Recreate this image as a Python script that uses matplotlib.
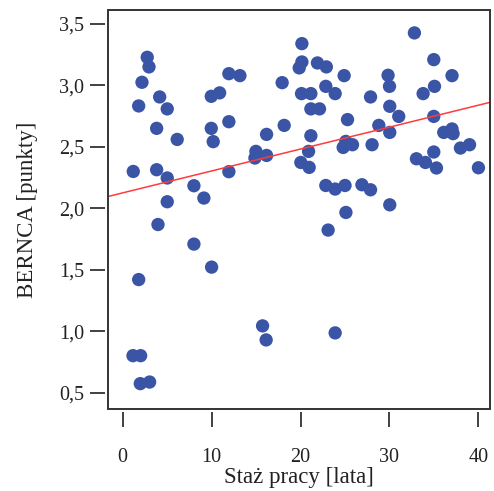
import matplotlib
matplotlib.use("Agg")
import matplotlib.pyplot as plt
from matplotlib.patches import Rectangle
from matplotlib.ticker import FuncFormatter
import numpy as np

plt.rcParams['font.family'] = ['Liberation Serif', 'DejaVu Serif']

# Staż pracy [lata]
staz = [2.76, 2.96, 2.17, 4.16, 1.80, 5.01, 3.82, 6.13, 9.96, 10.9, 11.94,
        9.96, 10.18, 11.94, 1.19, 3.82, 5.01, 8.01, 9.13, 5.01, 11.94,
        3.97, 8.01, 10.0, 1.80, 1.16, 2.02, 1.98, 3.03,
        25.1, 23.1, 15.73, 16.13, 23.89,
        13.18, 20.15, 20.15, 19.85, 21.9, 22.9, 24.9, 17.93, 22.84, 23.89,
        20.11, 21.16, 21.16, 22.13, 25.28, 18.16, 16.18, 21.16, 14.98, 14.87,
        16.18, 20.9, 20.03, 20.97, 25.09, 24.79, 25.84, 22.84, 23.89, 25.0,
        32.8, 34.98, 29.84, 30.0, 37.03, 35.06, 33.78, 27.87, 30.03, 31.04,
        34.98, 28.8, 30.03, 36.1, 37.03, 37.15, 28.04, 37.98, 39.0, 34.98,
        33.03, 34.04, 35.28, 40.0, 26.9, 27.87, 30.03]
# BERNCA [punkty]
bernca = [3.226, 3.148, 3.023, 2.904, 2.831, 2.807, 2.649, 2.559, 2.909, 2.937, 3.093,
          2.649, 2.541, 2.703, 2.299, 2.313, 2.246, 2.183, 2.083, 2.053, 2.297,
          1.868, 1.709, 1.522, 1.421, 0.803, 0.803, 0.576, 0.589,
          1.966, 1.823, 1.045, 0.931, 0.988,
          3.077, 3.337, 3.188, 3.140, 3.18, 3.148, 3.077, 3.020, 2.990, 2.931,
          2.931, 2.931, 2.807, 2.807, 2.720, 2.673, 2.600, 2.589, 2.462, 2.408,
          2.429, 2.462, 2.372, 2.332, 2.543, 2.494, 2.516, 2.185, 2.156, 2.185,
          3.424, 3.207, 3.080, 2.990, 3.077, 2.990, 2.931, 2.904, 2.828, 2.746,
          2.746, 2.673, 2.616, 2.616, 2.644, 2.606, 2.516, 2.489, 2.516, 2.457,
          2.402, 2.372, 2.327, 2.329, 2.191, 2.150, 2.028]

# regression line (intercept, slope)
fit_intercept = 2.125
fit_slope = 0.0178

x_ticks = [0, 10, 20, 30, 40]
y_ticks = [0.5, 1.0, 1.5, 2.0, 2.5, 3.0, 3.5]

fig = plt.figure(figsize=(4.94, 4.91), dpi=100)
ax = fig.add_axes([108/494, 82/491, 382/494, 399/491])

ax.scatter(staz, bernca, s=92, color='#3A55A6', edgecolors='none', zorder=3)

xlim = (-1.65, 41.3)
ax.set_xlim(*xlim)
ax.set_ylim(0.37, 3.61)
xs = np.array(xlim)
ax.plot(xs, fit_intercept + fit_slope * xs, color='#FF3B3B', lw=1.1, zorder=4)

# frame box
for s in ax.spines.values():
    s.set_visible(False)
ax.add_patch(Rectangle((0, 0), 1, 1, transform=ax.transAxes, fill=False,
                       edgecolor='#333333', lw=1.4, clip_on=False, zorder=5))
ax.spines['left'].set_position(('outward', 2.5))
ax.spines['bottom'].set_position(('outward', 2.5))

ax.set_xticks(x_ticks)
ax.set_yticks(y_ticks)
ax.yaxis.set_major_formatter(FuncFormatter(lambda v, p: f"{v:.1f}".replace('.', ',')))
ax.tick_params(axis='both', direction='out', length=10.5, width=1.3, color='#333333',
               labelsize=14.5, labelcolor='#222222')
ax.tick_params(axis='x', pad=15)
ax.tick_params(axis='y', pad=4)

ax.set_xlabel('Staż pracy [lata]', fontsize=16.5, color='#222222', labelpad=0)
ax.set_ylabel('BERNCA [punkty]', fontsize=16.5, color='#222222', labelpad=15)

fig.savefig('out.png', dpi=100)
